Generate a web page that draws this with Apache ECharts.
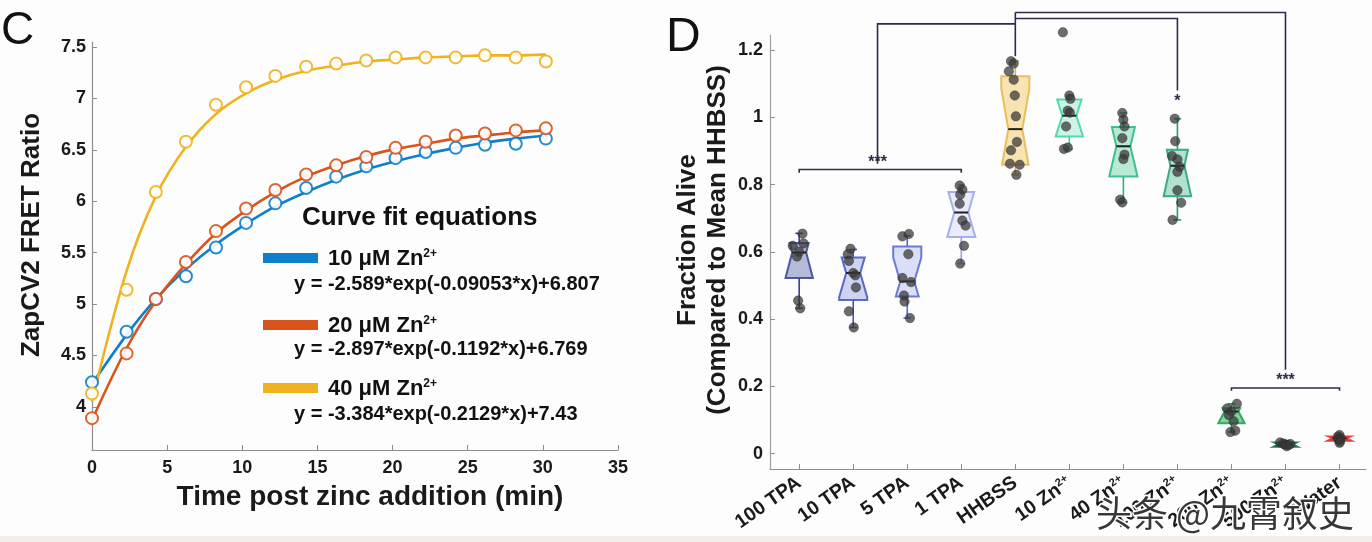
<!DOCTYPE html>
<html>
<head>
<meta charset="utf-8">
<script src="https://cdn.jsdelivr.net/npm/echarts@6/dist/echarts.min.js"></script>
<style>
html,body{margin:0;padding:0;background:#fff;}
#c{width:1372px;height:542px;}
</style>
</head>
<body>
<div id="c"></div>
<script>
// ---------- Panel C data ----------
const timeMin = [0, 2.3, 4.25, 6.25, 8.25, 10.25, 12.2, 14.25, 16.25, 18.25, 20.2, 22.2, 24.2, 26.15, 28.2, 30.2];
const blueObs   = [4.24, 4.73, 5.05, 5.27, 5.55, 5.79, 5.98, 6.13, 6.24, 6.34, 6.42, 6.48, 6.52, 6.55, 6.56, 6.61];
const redObs    = [3.89, 4.52, 5.05, 5.41, 5.71, 5.93, 6.11, 6.26, 6.35, 6.43, 6.52, 6.58, 6.64, 6.66, 6.69, 6.71];
const yellowObs = [4.13, 5.14, 6.09, 6.58, 6.94, 7.11, 7.22, 7.31, 7.34, 7.37, 7.40, 7.40, 7.40, 7.42, 7.40, 7.36];
const blueFit   = [4.22, 4.70, 5.05, 5.34, 5.58, 5.78, 5.95, 6.09, 6.21, 6.31, 6.39, 6.46, 6.52, 6.57, 6.61, 6.64];
const redFit    = [3.87, 4.57, 5.03, 5.39, 5.69, 5.91, 6.09, 6.24, 6.35, 6.44, 6.51, 6.56, 6.61, 6.64, 6.67, 6.69];
const yellowFit = [4.05, 5.32, 6.05, 6.53, 6.85, 7.05, 7.18, 7.27, 7.32, 7.36, 7.38, 7.40, 7.41, 7.42, 7.42, 7.43];
const cYTicks = [4, 4.5, 5, 5.5, 6, 6.5, 7, 7.5];
const legendLabels = ['10 μM Zn', '20 μM Zn', '40 μM Zn'];
const equations = [
  'y = -2.589*exp(-0.09053*x)+6.807',
  'y = -2.897*exp(-0.1192*x)+6.769',
  'y = -3.384*exp(-0.2129*x)+7.43'
];

// ---------- Panel D data ----------
const categories = ['100 TPA', '10 TPA', '5 TPA', '1 TPA', 'HHBSS', '10 Zn²⁺', '40 Zn²⁺', '100 Zn²⁺', '200 Zn²⁺', '500 Zn²⁺', 'Water'];
const whiskerLow  = [0.432, 0.375, 0.403, 0.565, 0.829, 0.906, 0.747, 0.695, 0.064, 0.016, 0.032];
const quart1      = [0.522, 0.457, 0.467, 0.644, 0.859, 0.943, 0.824, 0.765, 0.090, 0.020, 0.038];
const medians     = [0.598, 0.537, 0.512, 0.717, 0.965, 1.005, 0.914, 0.856, 0.125, 0.027, 0.045];
const quart3      = [0.626, 0.583, 0.616, 0.778, 1.122, 1.053, 0.971, 0.904, 0.135, 0.033, 0.051];
const whiskerHigh = [0.655, 0.607, 0.648, 0.800, 1.167, 1.065, 1.013, 0.996, 0.148, 0.038, 0.055];
const notchHalf   = [0.080, 0.072, 0.071, 0.073, 0.120, 0.065, 0.089, 0.095, 0.040, 0.010, 0.010];
const dotValues = [
  [0.654, 0.625, 0.618, 0.600, 0.586, 0.455, 0.432],
  [0.609, 0.593, 0.573, 0.537, 0.530, 0.494, 0.423, 0.375],
  [0.646, 0.653, 0.593, 0.522, 0.510, 0.470, 0.452, 0.403],
  [0.797, 0.785, 0.770, 0.743, 0.693, 0.678, 0.618, 0.565],
  [1.167, 1.160, 1.137, 1.112, 1.065, 1.003, 0.927, 0.902, 0.862, 0.859, 0.829],
  [1.253, 1.065, 1.055, 1.020, 1.014, 0.973, 0.910, 0.906],
  [1.013, 0.993, 0.973, 0.938, 0.889, 0.876, 0.755, 0.747],
  [0.996, 0.929, 0.885, 0.875, 0.853, 0.838, 0.783, 0.746, 0.695],
  [0.148, 0.134, 0.125, 0.115, 0.096, 0.068, 0.064],
  [0.033, 0.030, 0.027, 0.025, 0.022, 0.028],
  [0.055, 0.050, 0.046, 0.042, 0.036, 0.032]
];
const dotJitter = [
  [0.06, 0.08, -0.12, 0.00, -0.04, -0.02, 0.02],
  [-0.05, -0.10, -0.08, 0.00, 0.04, 0.05, -0.08, 0.01],
  [-0.09, 0.03, 0.02, -0.09, 0.07, -0.06, -0.05, 0.05],
  [-0.03, 0.02, -0.02, -0.03, 0.02, 0.08, 0.05, -0.02],
  [-0.08, -0.03, -0.12, -0.03, -0.01, 0.01, 0.03, -0.08, -0.10, 0.08, 0.02],
  [-0.12, 0.00, 0.02, -0.03, 0.01, -0.06, -0.03, -0.10],
  [-0.02, 0.00, 0.02, -0.02, 0.02, 0.00, -0.06, -0.02],
  [-0.05, -0.04, -0.10, 0.00, 0.04, 0.00, 0.00, 0.07, -0.09],
  [0.10, -0.08, 0.00, -0.05, 0.04, 0.07, -0.02],
  [-0.10, -0.04, 0.00, 0.05, 0.02, 0.09],
  [0.00, -0.03, 0.02, -0.02, 0.01, 0.00]
];
const dYTicks = [0, 0.2, 0.4, 0.6, 0.8, 1, 1.2];
// significance brackets (data coordinates: category index, fraction)
const brackets = [
  [[0, 0.835], [0, 0.845], [3, 0.845], [3, 0.835]],
  [[1.45, 0.862], [1.45, 1.278], [4, 1.278]],
  [[4, 1.182], [4, 1.312]],
  [[4, 1.294], [7, 1.294], [7, 1.080]],
  [[4, 1.312], [9, 1.312], [9, 0.249]],
  [[8, 0.187], [8, 0.195], [10, 0.195], [10, 0.187]]
];
const sigMarks = [
  {x: 1.45, y: 0.864, t: '***'},
  {x: 7, y: 1.048, t: '*'},
  {x: 9, y: 0.218, t: '***'}
];

// ---------- styles ----------
const FONT = '"Liberation Sans", Arial, sans-serif';
const cColors = ['#0f7fcb', '#d9541c', '#efb320'];
const boxEdge = ['#34428f', '#4152bd', '#5566cf', '#99a2e6', '#e6b548', '#3ad39a', '#25b683', '#1f9f73', '#1d9c53', '#0d6a3a', '#e42222'];
const boxFill = ['#a7afd2', '#c6cbf0', '#d4d8f6', '#e6e9fb', '#f7dea4', '#c6f1df', '#aae5cb', '#a5dbc3', '#6ccb8c', '#2f7e50', '#f07a7a'];
const axisGray = '#8e8e8e';

const chart = echarts.init(document.getElementById('c'), null, {renderer: 'canvas'});

function boxItem(params, api) {
  const i = api.value(0), lo = api.value(1), q1 = api.value(2), med = api.value(3),
        q3 = api.value(4), hi = api.value(5), n = api.value(6);
  const hw = 0.26;
  const w = y => hw * (0.5 + 0.5 * Math.min(1, Math.abs(y - med) / n));
  const ys = [q3];
  if (med + n < q3) ys.push(med + n);
  ys.push(med);
  if (med - n > q1) ys.push(med - n);
  ys.push(q1);
  const right = ys.map(y => api.coord([i + w(y), y]));
  const left = ys.slice().reverse().map(y => api.coord([i - w(y), y]));
  const edge = boxEdge[i], fill = boxFill[i];
  const ln = (a, b, col, lw) => ({type: 'line', shape: {x1: a[0], y1: a[1], x2: b[0], y2: b[1]}, style: {stroke: col, lineWidth: lw}});
  const capW = 0.07;
  return {
    type: 'group',
    children: [
      ln(api.coord([i, q3]), api.coord([i, hi]), edge, 1.6),
      ln(api.coord([i, q1]), api.coord([i, lo]), edge, 1.6),
      ln(api.coord([i - capW, hi]), api.coord([i + capW, hi]), edge, 1.6),
      ln(api.coord([i - capW, lo]), api.coord([i + capW, lo]), edge, 1.6),
      {type: 'polygon', shape: {points: right.concat(left)}, style: {fill: fill, stroke: edge, lineWidth: 2, opacity: 0.85}},
      ln(api.coord([i - w(med), med]), api.coord([i + w(med), med]), '#1e1e1e', 2)
    ]
  };
}

const dotData = [];
dotValues.forEach((arr, g) => arr.forEach((v, k) => dotData.push([g + dotJitter[g][k], v])));

const supLabel = s => s.indexOf('²⁺') >= 0 ? '{a|' + s.replace('²⁺', '') + '}{s|2+}' : '{a|' + s + '}';

const option = {
  animation: false,
  backgroundColor: '#fdfdfe',
  textStyle: {fontFamily: FONT},
  grid: [
    {left: 92, top: 42, width: 526, height: 408},
    {left: 770, top: 35, width: 596, height: 434}
  ],
  xAxis: [
    {
      type: 'value', gridIndex: 0, min: 0, max: 35, interval: 5,
      axisLine: {show: true, onZero: false, lineStyle: {color: axisGray, width: 1.2}},
      axisTick: {show: true, inside: true, length: 5, lineStyle: {color: axisGray}},
      axisLabel: {fontSize: 18, fontWeight: 'bold', color: '#1a1a1a', margin: 9, fontFamily: FONT},
      splitLine: {show: false}
    },
    {
      type: 'value', gridIndex: 1, min: -0.54, max: 10.49,
      axisLine: {show: true, onZero: false, lineStyle: {color: axisGray, width: 1.2}},
      axisTick: {show: true, inside: true, length: 5, customValues: categories.map((c, i) => i), lineStyle: {color: axisGray}},
      axisLabel: {
        customValues: categories.map((c, i) => i), rotate: 35, margin: 12,
        formatter: v => supLabel(categories[Math.round(v)]),
        rich: {
          a: {fontSize: 19.5, fontWeight: 'bold', color: '#1a1a1a', fontFamily: FONT},
          s: {fontSize: 11, fontWeight: 'bold', color: '#1a1a1a', fontFamily: FONT, verticalAlign: 'top'}
        }
      },
      splitLine: {show: false}
    }
  ],
  yAxis: [
    {
      type: 'value', gridIndex: 0, min: 3.58, max: 7.55,
      axisLine: {show: true, onZero: false, lineStyle: {color: axisGray, width: 1.2}},
      axisTick: {show: true, inside: true, length: 5, customValues: cYTicks, lineStyle: {color: axisGray}},
      axisLabel: {customValues: cYTicks, fontSize: 18, fontWeight: 'bold', color: '#1a1a1a', margin: 6, fontFamily: FONT},
      splitLine: {show: false}
    },
    {
      type: 'value', gridIndex: 1, min: -0.046, max: 1.245,
      axisLine: {show: true, onZero: false, lineStyle: {color: '#a0a0a0', width: 1.2}},
      axisTick: {show: true, inside: true, length: 5, customValues: dYTicks, lineStyle: {color: axisGray}},
      axisLabel: {customValues: dYTicks, fontSize: 18, fontWeight: 'bold', color: '#1a1a1a', margin: 7, fontFamily: FONT},
      splitLine: {show: false}
    }
  ],
  series: [
    ...[blueFit, redFit, yellowFit].map((fit, s) => ({
      type: 'line', xAxisIndex: 0, yAxisIndex: 0, smooth: 0.35, symbol: 'none', z: 2,
      data: fit.map((v, k) => [timeMin[k], v]),
      lineStyle: {color: cColors[s], width: 2.6}
    })),
    ...[blueObs, redObs, yellowObs].map((obs, s) => ({
      type: 'scatter', xAxisIndex: 0, yAxisIndex: 0, symbol: 'emptyCircle', symbolSize: 12, z: 3,
      data: obs.map((v, k) => [timeMin[k], v]),
      itemStyle: {color: cColors[s], borderColor: cColors[s], borderWidth: 2.3, opacity: 0.9}
    })),
    {
      type: 'custom', xAxisIndex: 1, yAxisIndex: 1, renderItem: boxItem, z: 2,
      data: categories.map((c, i) => [i, whiskerLow[i], quart1[i], medians[i], quart3[i], whiskerHigh[i], notchHalf[i]])
    },
    {
      type: 'scatter', xAxisIndex: 1, yAxisIndex: 1, symbolSize: 9.5, clip: false, z: 4,
      data: dotData,
      itemStyle: {color: '#383838', opacity: 0.74, borderColor: '#262626', borderWidth: 0.5}
    },
    {
      type: 'custom', xAxisIndex: 1, yAxisIndex: 1, z: 5,
      renderItem: (params, api) => ({
        type: 'polyline',
        shape: {points: brackets[params.dataIndex].map(p => api.coord(p))},
        style: {stroke: '#2c2c48', lineWidth: 1.6, fill: null}
      }),
      data: brackets.map(b => b[0])
    },
    {
      type: 'custom', xAxisIndex: 1, yAxisIndex: 1, z: 5,
      renderItem: (params, api) => {
        const p = api.coord([sigMarks[params.dataIndex].x, sigMarks[params.dataIndex].y]);
        return {type: 'text', x: p[0], y: p[1], style: {text: sigMarks[params.dataIndex].t, font: 'bold 16px ' + FONT, fill: '#2c2c48', align: 'center', verticalAlign: 'middle'}};
      },
      data: sigMarks.map(m => [m.x, m.y])
    }
  ],
  graphic: [
    {type: 'rect', left: 0, top: 536, shape: {width: 1372, height: 6}, style: {fill: '#f3efea'}, silent: true},
    {type: 'text', x: 1, y: 31, style: {text: 'C', font: '46px ' + FONT, fill: '#111', verticalAlign: 'middle'}},
    {type: 'text', x: 666, y: 38, style: {text: 'D', font: '48px ' + FONT, fill: '#111', verticalAlign: 'middle'}},
    {type: 'text', x: 32, y: 235, rotation: Math.PI / 2, style: {text: 'ZapCV2 FRET Ratio', font: 'bold 26px ' + FONT, fill: '#1a1a1a', align: 'center', verticalAlign: 'middle'}},
    {type: 'text', x: 370, y: 497, style: {text: 'Time post zinc addition (min)', font: 'bold 28px ' + FONT, fill: '#1a1a1a', align: 'center', verticalAlign: 'middle'}},
    {type: 'text', x: 688, y: 240, rotation: Math.PI / 2, style: {text: 'Fraction Alive', font: 'bold 26px ' + FONT, fill: '#1a1a1a', align: 'center', verticalAlign: 'middle'}},
    {type: 'text', x: 718, y: 240, rotation: Math.PI / 2, style: {text: '(Compared to Mean HHBSS)', font: 'bold 26px ' + FONT, fill: '#1a1a1a', align: 'center', verticalAlign: 'middle'}},
    {type: 'text', x: 302, y: 218, style: {text: 'Curve fit equations', font: 'bold 26px ' + FONT, fill: '#111', verticalAlign: 'middle'}},
    ...[0, 1, 2].map(k => ({type: 'rect', shape: {x: 263, y: [253, 320, 383][k], width: 55, height: 10}, style: {fill: cColors[k]}})),
    ...[0, 1, 2].map(k => ({
      type: 'text', x: 328, y: [259, 326, 389][k],
      style: {
        text: '{a|' + legendLabels[k] + '}{s|2+}', verticalAlign: 'middle',
        rich: {
          a: {font: 'bold 22px ' + FONT, fill: '#111', verticalAlign: 'bottom'},
          s: {font: 'bold 12px ' + FONT, fill: '#111', verticalAlign: 'top'}
        }
      }
    })),
    ...[0, 1, 2].map(k => ({type: 'text', x: 294, y: [284, 349, 414][k], style: {text: equations[k], font: 'bold 20px ' + FONT, fill: '#111', verticalAlign: 'middle'}})),
    {type: 'text', x: 1096, y: 513, z: 100, style: {text: '头条 @九霄叙史', font: '36px "Noto Sans CJK SC", sans-serif', fill: 'rgba(20,20,20,0.85)', stroke: '#ffffff', lineWidth: 3, verticalAlign: 'middle'}}
  ]
};
chart.setOption(option);
</script>
</body>
</html>
